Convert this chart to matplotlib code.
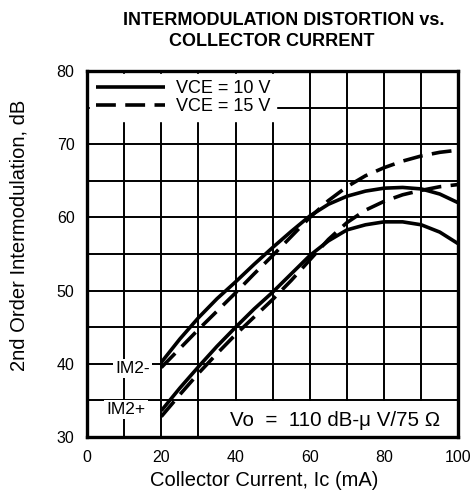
import matplotlib
matplotlib.use("Agg")
import matplotlib.pyplot as plt
from matplotlib.patches import Rectangle

plt.rcParams['font.family'] = ['Liberation Sans', 'DejaVu Sans']

ic_ma = [20, 25, 30, 35, 40, 45, 50, 55, 60, 65, 70, 75, 80, 85, 90, 95, 100]
im2_minus_10v = [40.2, 43.4, 46.3, 48.9, 51.2, 53.6, 55.9, 58.1, 60.2, 61.8, 62.9, 63.6, 64.0, 64.1, 63.9, 63.2, 62.0]
im2_minus_15v = [39.5, 42.1, 44.7, 47.2, 49.7, 52.3, 54.8, 57.4, 60.0, 62.3, 64.2, 65.7, 66.8, 67.7, 68.4, 68.9, 69.2]
im2_plus_10v = [33.6, 36.7, 39.6, 42.4, 45.0, 47.5, 49.8, 52.3, 54.8, 56.8, 58.3, 59.0, 59.4, 59.4, 59.0, 58.0, 56.4]
im2_plus_15v = [32.8, 35.8, 38.7, 41.4, 44.0, 46.4, 48.8, 51.4, 54.2, 57.0, 59.3, 61.0, 62.2, 63.1, 63.7, 64.2, 64.5]

x_ticks = [0, 20, 40, 60, 80, 100]
y_ticks = [30, 40, 50, 60, 70, 80]
series_labels = ["VCE = 10 V", "VCE = 15 V"]

fig = plt.figure(figsize=(4.73, 4.90), dpi=100)
ax = fig.add_axes([0.184, 0.108, 0.785, 0.747])

ax.set_xlim(0, 100)
ax.set_ylim(30, 80)

# grid
for gx in range(10, 100, 10):
    ax.axvline(gx, color='black', lw=1.4, zorder=1)
for gy in range(35, 80, 5):
    ax.axhline(gy, color='black', lw=1.4, zorder=1)

lw = 2.6
dash = (5.5, 2.6)
l1, = ax.plot(ic_ma, im2_minus_10v, color='black', lw=lw, zorder=5, solid_capstyle='butt')
ax.plot(ic_ma, im2_plus_10v, color='black', lw=lw, zorder=5, solid_capstyle='butt')
l2, = ax.plot(ic_ma, im2_minus_15v, color='black', lw=lw, dashes=dash, zorder=5)
ax.plot(ic_ma, im2_plus_15v, color='black', lw=lw, dashes=dash, zorder=5)

leg = ax.legend([l1, l2], series_labels, loc='upper left', frameon=True,
                fontsize=13, handlelength=3.8, handletextpad=0.6,
                borderaxespad=0.15, borderpad=0.35, labelspacing=0.05,
                fancybox=False, edgecolor='white', framealpha=1)
leg.set_zorder(10)

ax.text(12.3, 39.4, "IM2-", fontsize=12.5, ha='center', va='center', zorder=8,
        bbox=dict(facecolor='white', edgecolor='none', pad=1.5))
ax.text(10.5, 33.8, "IM2+", fontsize=12.5, ha='center', va='center', zorder=8,
        bbox=dict(facecolor='white', edgecolor='none', pad=1.5))

# white panel behind the condition note
ax.add_patch(Rectangle((0.355, 0.0), 0.645, 0.098, transform=ax.transAxes,
                       facecolor='white', edgecolor='none', zorder=3))
ax.text(0.952, 0.045, "Vo  =  110 dB-\u03bc V/75 \u03a9", fontsize=14.8, ha='right', va='center',
        zorder=8, transform=ax.transAxes)

for s in ax.spines.values():
    s.set_linewidth(2.4)
    s.set_zorder(12)

ax.set_xticks(x_ticks)
ax.set_yticks(y_ticks)
ax.tick_params(length=0, pad=9, labelsize=11.5)

ax.set_xlabel("Collector Current, Ic (mA)", fontsize=14.5)
ax.xaxis.set_label_coords(0.477, -0.094)
ax.set_ylabel("2nd Order Intermodulation, dB", fontsize=14.5)
ax.yaxis.set_label_coords(-0.158, 0.552)

fig.text(0.600, 0.958, "INTERMODULATION DISTORTION vs.", fontsize=13, fontweight='bold',
         ha='center', va='center')
fig.text(0.575, 0.915, "COLLECTOR CURRENT", fontsize=13, fontweight='bold',
         ha='center', va='center')

fig.savefig("out.png", dpi=100)
